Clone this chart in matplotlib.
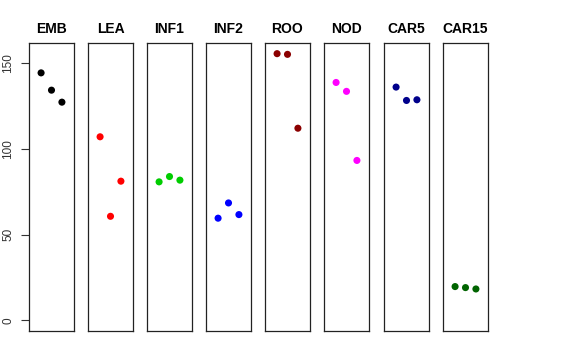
import matplotlib
matplotlib.use("Agg")
import matplotlib.pyplot as plt

groups = ["EMB", "LEA", "INF1", "INF2", "ROO", "NOD", "CAR5", "CAR15"]
colors = ["#000000", "#FF0000", "#00CD00", "#0000FF", "#8B0000", "#FF00FF", "#00008B", "#006400"]
emb = [144.4, 134.3, 127.3]
lea = [107.1, 60.7, 81.2]
inf1 = [80.8, 83.9, 81.8]
inf2 = [59.6, 68.5, 61.7]
roo = [155.6, 155.2, 112.1]
nod = [138.8, 133.6, 93.3]
car5 = [136.1, 128.3, 128.7]
car15 = [19.7, 19.1, 18.3]
values = [emb, lea, inf1, inf2, roo, nod, car5, car15]
yticks = [0, 50, 100, 150]

plt.rcParams['font.family'] = ['Liberation Sans', 'DejaVu Sans']
fig = plt.figure(figsize=(5.76, 3.6), dpi=100)
W, H = 576, 360
lefts = [29, 88, 147, 206, 265, 324, 384, 443]
pw = 45
top, bottom = 43, 331
ymax = 155.6
for i, (g, c, v) in enumerate(zip(groups, colors, values)):
    ax = fig.add_axes([lefts[i] / W, 1 - bottom / H, pw / W, (bottom - top) / H])
    xs = [1, 2, 3]
    ax.scatter(xs, v, s=26, color=c, edgecolors='none', zorder=3)
    ax.set_xlim(-0.16, 4.16)
    ax.set_ylim(-0.04 * ymax, ymax * 1.04)
    ax.set_xticks([])
    for sp in ax.spines.values():
        sp.set_linewidth(0.9)
        sp.set_color('#222222')
    ax.set_title(g, fontsize=10, fontweight='bold', pad=7)
    if i == 0:
        ax.set_yticks(yticks)
        ax.set_yticklabels([str(t) for t in yticks], rotation=90, va='center', fontsize=8.5, color='#333333')
        ax.tick_params(axis='y', length=5.5, width=0.8, pad=5, color='#333333')
    else:
        ax.set_yticks([])

fig.savefig("out.png", dpi=100)
